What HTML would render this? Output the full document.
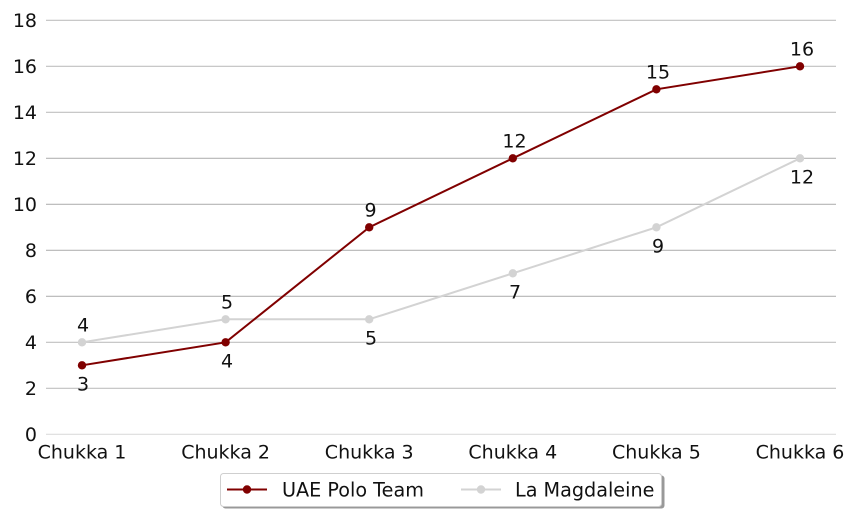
<!DOCTYPE html>
<html><head><meta charset="utf-8"><style>
html,body{margin:0;padding:0;background:#fff;}
svg{display:block;font-family:"DejaVu Sans","Liberation Sans",sans-serif;}
</style></head><body>
<svg width="864" height="518" viewBox="0 0 864 518" xmlns="http://www.w3.org/2000/svg">
<rect width="864" height="518" fill="#fff"/>
<g stroke="#c0c0c0" stroke-width="1.2">
<line x1="46" x2="836" y1="434.3" y2="434.3" stroke="#dddddd"/>
<line x1="46" x2="836" y1="388.3" y2="388.3"/>
<line x1="46" x2="836" y1="342.3" y2="342.3"/>
<line x1="46" x2="836" y1="296.3" y2="296.3" stroke="#b4b4b4"/>
<line x1="46" x2="836" y1="250.3" y2="250.3" stroke="#b4b4b4"/>
<line x1="46" x2="836" y1="204.3" y2="204.3" stroke="#b4b4b4"/>
<line x1="46" x2="836" y1="158.3" y2="158.3" stroke="#b4b4b4"/>
<line x1="46" x2="836" y1="112.3" y2="112.3"/>
<line x1="46" x2="836" y1="66.3" y2="66.3"/>
<line x1="46" x2="836" y1="20.3" y2="20.3"/>
</g>
<g font-size="19" fill="#111" text-anchor="end">
<text x="37" y="441">0</text>
<text x="37" y="395">2</text>
<text x="37" y="349">4</text>
<text x="37" y="303">6</text>
<text x="37" y="257">8</text>
<text x="37" y="211">10</text>
<text x="37" y="165">12</text>
<text x="37" y="119">14</text>
<text x="37" y="73">16</text>
<text x="37" y="27">18</text>
</g>
<g font-size="19" fill="#111" text-anchor="middle">
<text x="82" y="458.5">Chukka 1</text>
<text x="225.6" y="458.5">Chukka 2</text>
<text x="369.2" y="458.5">Chukka 3</text>
<text x="512.8" y="458.5">Chukka 4</text>
<text x="656.4" y="458.5">Chukka 5</text>
<text x="800" y="458.5">Chukka 6</text>
</g>
<!-- La Magdaleine -->
<polyline fill="none" stroke="#d3d3d3" stroke-width="2" points="82,342.3 225.6,319.3 369.2,319.3 512.8,273.3 656.4,227.3 800,158.3"/>
<g fill="#d3d3d3">
<circle cx="82" cy="342.3" r="4.2"/><circle cx="225.6" cy="319.3" r="4.2"/><circle cx="369.2" cy="319.3" r="4.2"/>
<circle cx="512.8" cy="273.3" r="4.2"/><circle cx="656.4" cy="227.3" r="4.2"/><circle cx="800" cy="158.3" r="4.2"/>
</g>
<!-- UAE -->
<polyline fill="none" stroke="#800000" stroke-width="2" points="82,365.3 225.6,342.3 369.2,227.3 512.8,158.3 656.4,89.3 800,66.3"/>
<g fill="#800000">
<circle cx="82" cy="365.3" r="4.2"/><circle cx="225.6" cy="342.3" r="4.2"/><circle cx="369.2" cy="227.3" r="4.2"/>
<circle cx="512.8" cy="158.3" r="4.2"/><circle cx="656.4" cy="89.3" r="4.2"/><circle cx="800" cy="66.3" r="4.2"/>
</g>
<g font-size="19" fill="#111" text-anchor="middle">
<text x="83" y="390.5">3</text>
<text x="227" y="367.5">4</text>
<text x="370.5" y="216.3">9</text>
<text x="514.5" y="147.3">12</text>
<text x="658" y="78.3">15</text>
<text x="802" y="55.3">16</text>
<text x="83" y="331.5">4</text>
<text x="227" y="308.3">5</text>
<text x="371" y="344.3">5</text>
<text x="515" y="298.3">7</text>
<text x="658" y="252.3">9</text>
<text x="802" y="183.3">12</text>
</g>
<!-- legend -->
<rect x="222.5" y="475.5" width="442" height="33" rx="3" fill="#999"/>
<rect x="220.5" y="473.5" width="441" height="33" rx="3" fill="#fff" stroke="#cfcfcf" stroke-width="1"/>
<line x1="227" x2="267" y1="489.5" y2="489.5" stroke="#800000" stroke-width="2"/>
<circle cx="247" cy="489.5" r="4.2" fill="#800000"/>
<text x="282" y="496.5" font-size="19.2" fill="#111">UAE Polo Team</text>
<line x1="461" x2="501" y1="489.5" y2="489.5" stroke="#d3d3d3" stroke-width="2"/>
<circle cx="481" cy="489.5" r="4.2" fill="#d3d3d3"/>
<text x="515" y="496.5" font-size="19.2" fill="#111">La Magdaleine</text>
</svg>
</body></html>
